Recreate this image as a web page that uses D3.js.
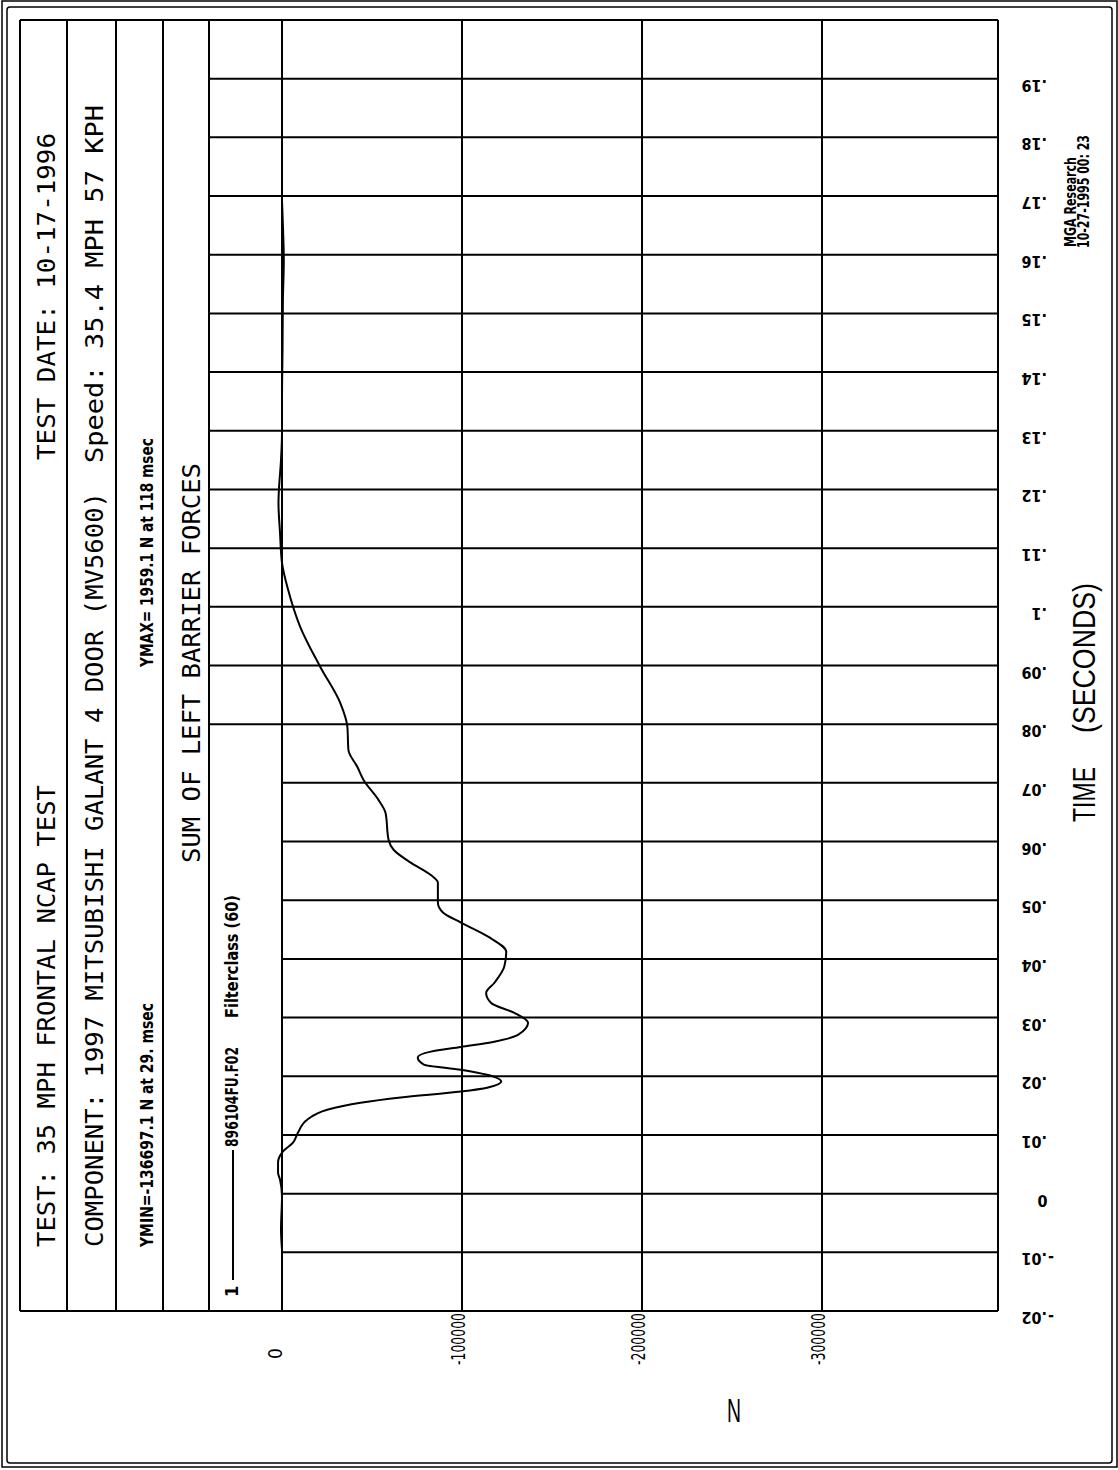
<!DOCTYPE html>
<html>
<head>
<meta charset="utf-8">
<script src="https://cdn.jsdelivr.net/npm/d3@7"></script>
<style>
  html, body { margin: 0; padding: 0; background: #fff; }
  svg { display: block; }
</style>
</head>
<body>
<svg id="chart" width="1118" height="1470"></svg>
<script>
// ---------------- DATA ----------------
// Time (ms) and sum of left barrier forces (N)
const timeMs = [-9.5, -6.1, -0.5, 2.4, 3.6, 5.3, 7.2, 8.7, 10.4, 12.6, 14.3, 15.5, 16.4, 17.4, 18.1, 19.1,
  19.9, 21.1, 22.0, 23.2, 24.2, 25.0, 25.9, 27.1, 29.1, 30.8, 32.5, 34.2, 35.9, 38.7, 41.2,
  43.8, 46.2, 47.9, 49.6, 53.0, 54.3, 56.4, 58.6, 60.3, 64.9, 67.1, 70.5, 72.7, 75.6, 79.6,
  83.6, 89.8, 96.6, 102.9, 107.5, 112.6, 117.7, 119.4, 125.0, 129.6, 135.3, 143.8, 152.3,
  159.1, 164.2, 169.3];
const forceN = [0, 560, 0, 1100, 2200, 2200, -560, -6100, -8900, -14000, -25100, -43600, -65900, -99400, -114500, -121800,
  -117900, -99400, -78800, -75400, -82700, -99400, -117900, -131300, -136697, -129100, -116200, -113400, -117900, -123500, -124600,
  -114500, -99400, -89400, -86600, -86600, -82700, -71500, -62000, -59200, -57500, -53600, -45300, -41900, -36900, -36300,
  -32400, -21200, -10100, -3400, 0, 1100, 1959, 1800, 560, 0, 0, -300, -500,
  -1000, -600, 0];

const timeTicks = [-0.02, -0.01, 0, 0.01, 0.02, 0.03, 0.04, 0.05, 0.06, 0.07, 0.08, 0.09, 0.10,
  0.11, 0.12, 0.13, 0.14, 0.15, 0.16, 0.17, 0.18, 0.19];
const timeLabels = ["-.02", "-.01", "0", ".01", ".02", ".03", ".04", ".05", ".06", ".07", ".08", ".09", ".1",
  ".11", ".12", ".13", ".14", ".15", ".16", ".17", ".18", ".19"];
const forceTicks = [0, -100000, -200000, -300000];
const forceLabels = ["0", "-100000", "-200000", "-300000"];

const headerTexts = [
  "TEST:  35 MPH FRONTAL NCAP TEST",
  "TEST DATE:  10-17-1996",
  "COMPONENT:  1997 MITSUBISHI GALANT 4 DOOR  (MV5600)",
  "Speed:  35.4 MPH   57 KPH",
  "YMIN=-136697.1   N at  29. msec",
  "YMAX= 1959.1   N at  118 msec",
  "SUM OF LEFT BARRIER FORCES"
];
const legendTexts = ["1", "896104FU.F02", "Filterclass  (60)"];
const stampTexts = ["MGA Research", "10-27-1995 00: 23"];
const axisTitles = ["TIME", "(SECONDS)", "N"];

// ---------------- LAYOUT ----------------
const svg = d3.select("#chart");
const L = 282, R = 998, T = 20, B = 1311;
const x = d3.scaleLinear().domain([0, -300000]).range([L, 822]);
const y = d3.scaleLinear().domain([-0.02, 0.20]).range([B, T]);

const MONO = "'DejaVu Sans Mono', 'Liberation Mono', monospace";
const COND = "'DejaVu Sans Condensed', 'Liberation Sans Narrow', 'DejaVu Sans', sans-serif";
const SANS = "'Liberation Sans', 'Arial', sans-serif";

// outer frames
svg.append("rect").attr("x", 2).attr("y", 1).attr("width", 1115).attr("height", 1466)
  .attr("fill", "none").attr("stroke", "#000").attr("stroke-width", 1.5);
svg.append("rect").attr("x", 7).attr("y", 7).attr("width", 1105).attr("height", 1456).attr("rx", 3)
  .attr("fill", "none").attr("stroke", "#000").attr("stroke-width", 1.5);

const g = svg.append("g");

// horizontal gridlines (time)
g.selectAll("line.hgrid").data(timeTicks.filter(t => t > -0.015)).join("line")
  .attr("class", "hgrid")
  .attr("x1", d => d >= 0.075 ? 209 : L).attr("x2", R)
  .attr("y1", d => y(d)).attr("y2", d => y(d))
  .attr("stroke", "#000").attr("stroke-width", 2);

// vertical gridlines (force)
g.selectAll("line.vgrid").data(forceTicks).join("line")
  .attr("class", "vgrid")
  .attr("x1", d => x(d)).attr("x2", d => x(d))
  .attr("y1", T).attr("y2", B)
  .attr("stroke", "#000").attr("stroke-width", 2);

// table / frame lines
[20, 67, 116, 163, 209].forEach(cx => {
  g.append("line").attr("x1", cx).attr("x2", cx).attr("y1", T).attr("y2", B)
    .attr("stroke", "#000").attr("stroke-width", 2);
});
g.append("line").attr("x1", R).attr("x2", R).attr("y1", T).attr("y2", B).attr("stroke", "#000").attr("stroke-width", 2);
g.append("line").attr("x1", 20).attr("x2", R).attr("y1", T).attr("y2", T).attr("stroke", "#000").attr("stroke-width", 2);
g.append("line").attr("x1", 20).attr("x2", R).attr("y1", B).attr("y2", B).attr("stroke", "#000").attr("stroke-width", 2);

// ---------------- CURVE ----------------
const pts = timeMs.map((t, i) => [t / 1000, forceN[i]]);
const line = d3.line().x(d => x(d[1])).y(d => y(d[0])).curve(d3.curveMonotoneY);
g.append("path").datum(pts).attr("d", line)
  .attr("fill", "none").attr("stroke", "#000").attr("stroke-width", 2);

// ---------------- TEXT ----------------
function vtext(px, py, str, o) {
  const t = svg.append("text")
    .attr("transform", `translate(${px},${py}) rotate(-90)`)
    .attr("font-family", o.family).attr("font-size", o.size)
    .attr("font-weight", o.weight || "normal")
    .attr("text-anchor", o.anchor || "start")
    .attr("fill", "#000")
    .text(str);
  if (o.len) t.attr("textLength", o.len).attr("lengthAdjust", "spacingAndGlyphs");
  return t;
}

// header rows
vtext(55, 1247, headerTexts[0], {family: MONO, size: 25, len: 462});
vtext(55, 460, headerTexts[1], {family: MONO, size: 25, len: 327});
vtext(103, 1247, headerTexts[2], {family: MONO, size: 25, len: 755});
vtext(103, 463, headerTexts[3], {family: MONO, size: 25, len: 358});
vtext(153, 1247, headerTexts[4], {family: COND, size: 18, weight: "bold", len: 244});
vtext(153, 667, headerTexts[5], {family: COND, size: 18, weight: "bold", len: 229});
vtext(200, 863, headerTexts[6], {family: MONO, size: 25, len: 400});

// legend
vtext(238, 1297, legendTexts[0], {family: COND, size: 18, weight: "bold"});
svg.append("line").attr("x1", 233).attr("x2", 233).attr("y1", 1280).attr("y2", 1150)
  .attr("stroke", "#000").attr("stroke-width", 2);
vtext(238, 1147, legendTexts[1], {family: COND, size: 18, weight: "bold", len: 100});
vtext(238, 1018, legendTexts[2], {family: COND, size: 18, weight: "bold", len: 123});

// force tick labels
forceTicks.forEach((v, i) => {
  const single = forceLabels[i].length === 1;
  vtext(single ? x(v) : x(v) + 3, single ? 1359 : 1365, forceLabels[i], {family: COND, size: 19, weight: "normal",
    len: single ? null : 52});
});

// time tick labels (rotated 180, decimal-aligned)
timeTicks.forEach((v, i) => {
  const lab = timeLabels[i];
  const gy = y(v) + 1;
  const gt = svg.append("g").attr("transform", `translate(1047,${gy}) rotate(180)`);
  const st = {family: COND, size: 16, weight: "bold"};
  if (lab.indexOf(".") < 0) {
    gt.append("text").attr("x", 4.5).attr("text-anchor", "middle")
      .attr("font-family", st.family).attr("font-size", st.size).attr("font-weight", st.weight).text(lab);
  } else {
    const k = lab.indexOf(".");
    const pre = lab.slice(0, k), post = lab.slice(k);
    gt.append("text").attr("x", 0).attr("text-anchor", "start")
      .attr("font-family", st.family).attr("font-size", st.size).attr("font-weight", st.weight).text(post);
    if (pre) gt.append("text").attr("x", -1).attr("text-anchor", "end")
      .attr("font-family", st.family).attr("font-size", st.size).attr("font-weight", st.weight).text(pre);
  }
});

// axis titles
vtext(1095, 822, axisTitles[0], {family: SANS, size: 31, len: 55});
vtext(1095, 733, axisTitles[1], {family: SANS, size: 31, len: 150});
svg.append("text").attr("x", 734).attr("y", 1422).attr("text-anchor", "middle")
  .attr("font-family", SANS).attr("font-size", 34)
  .attr("textLength", 14).attr("lengthAdjust", "spacingAndGlyphs").text(axisTitles[2]);

// stamp
vtext(1076, 247, stampTexts[0], {family: COND, size: 16, weight: "bold", len: 90});
vtext(1089, 248, stampTexts[1], {family: COND, size: 16, weight: "bold", len: 113});
</script>
</body>
</html>
